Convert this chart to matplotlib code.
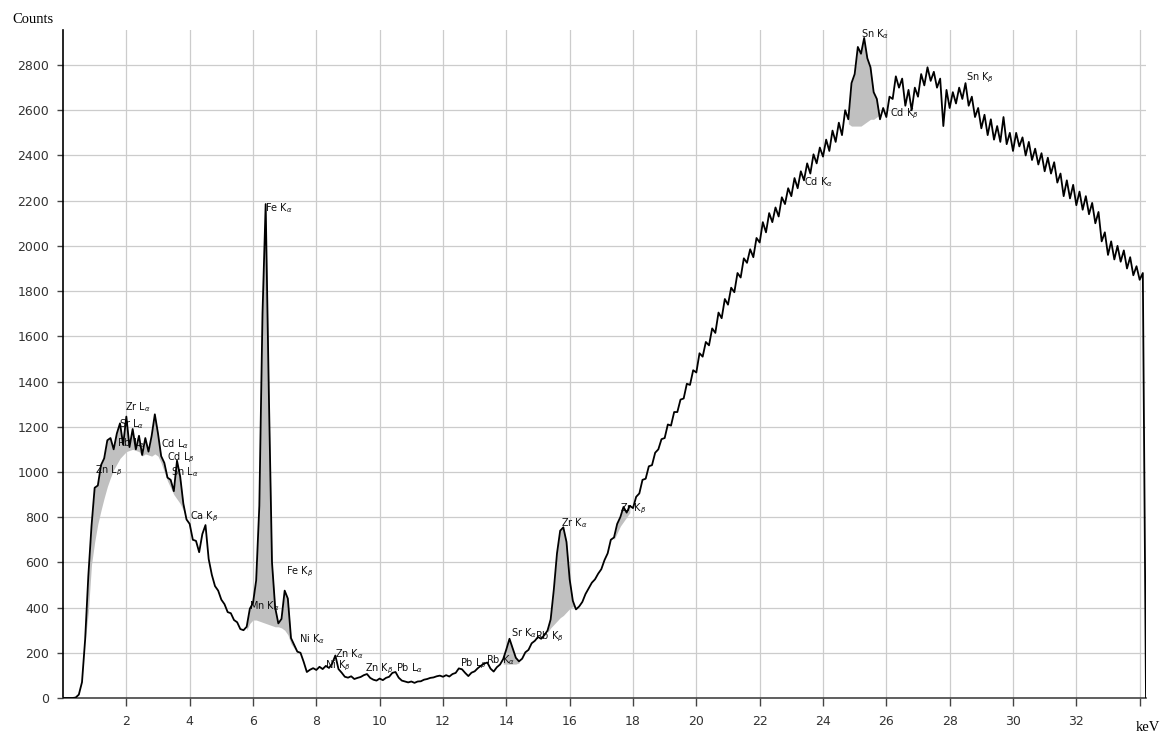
import numpy as np
import matplotlib
matplotlib.use("Agg")
import matplotlib.pyplot as plt

# spectrum, 0.1 keV per channel, 0.0 .. 34.2 keV
counts = [
    0, 0, 0, 0, 2, 15, 70, 260, 540, 760,
    930, 940, 1030, 1060, 1140, 1150, 1100, 1170, 1215, 1120,
    1245, 1110, 1190, 1100, 1160, 1075, 1150, 1090, 1160, 1255,
    1170, 1070, 1040, 975, 965, 915, 1050, 980, 860, 790,
    770, 700, 695, 645, 725, 765, 615, 545, 495, 475,
    435, 415, 380, 375, 345, 335, 305, 300, 315, 395,
    420, 520, 850, 1700, 2185, 1350, 600, 400, 330, 350,
    475, 440, 265, 235, 205, 200, 160, 115, 125, 132,
    124, 138, 128, 142, 133, 152, 188, 128, 112, 94,
    90, 96, 84, 89, 93, 101, 106, 89, 81, 77,
    86, 79, 89, 94, 111, 115, 90, 77, 73, 69,
    73, 67, 73, 74, 81, 84, 89, 91, 96, 99,
    94, 101, 95, 106, 111, 131, 127, 111, 97, 112,
    118, 132, 143, 152, 157, 130, 117, 136, 148, 172,
    215, 262, 220, 178, 162, 174, 202, 213, 242, 253,
    270, 262, 278, 298, 348, 480, 640, 740, 755, 690,
    525, 430, 392, 405, 425, 460, 485, 510, 525, 550,
    570, 610, 640, 700, 710, 770, 800, 845, 820, 850,
    840, 890, 905, 965, 970, 1025, 1030, 1085, 1100, 1145,
    1150, 1210, 1205, 1265, 1265, 1320, 1325, 1390, 1385, 1450,
    1440, 1525, 1510, 1575, 1560, 1635, 1615, 1705, 1680, 1765,
    1740, 1815, 1795, 1880, 1860, 1945, 1925, 1985, 1950, 2035,
    2015, 2105, 2060, 2145, 2105, 2170, 2130, 2215, 2185, 2255,
    2220, 2300, 2255, 2330, 2290, 2365, 2320, 2405, 2365, 2435,
    2395, 2470, 2420, 2510, 2460, 2545, 2490, 2600, 2560, 2720,
    2760, 2880, 2850, 2920, 2830, 2790, 2680, 2650, 2560, 2610,
    2570, 2660, 2650, 2750, 2700, 2740, 2620, 2690, 2600, 2700,
    2660, 2760, 2710, 2790, 2730, 2770, 2700, 2740, 2530, 2690,
    2610, 2680, 2630, 2700, 2650, 2720, 2620, 2660, 2570, 2610,
    2520, 2580, 2490, 2560, 2470, 2530, 2460, 2570, 2450, 2500,
    2420, 2500, 2440, 2480, 2400, 2460, 2380, 2430, 2360, 2410,
    2330, 2390, 2320, 2370, 2280, 2320, 2220, 2290, 2210, 2270,
    2180, 2240, 2160, 2220, 2140, 2190, 2100, 2150, 2020, 2060,
    1960, 2020, 1940, 2000, 1930, 1980, 1900, 1950, 1870, 1910,
    1850, 1880, 0,
]
energy = np.linspace(0, 34.2, len(counts))

# grey areas: start energy and lower edge per channel
grey_start = [0.7, 5.8, 13.9, 15.3, 17.4, 24.8]
grey_floor = [
    [250, 380, 590, 690, 770, 830, 885, 935, 975, 1010, 1035, 1060, 1075, 1090,
     1095, 1100, 1095, 1090, 1070, 1080, 1075, 1070, 1080, 1070, 1040, 1000,
     960, 930, 900, 880, 860, 830, 790],
    [300, 330, 345, 345, 340, 335, 330, 325, 320, 315, 315, 310, 300, 280, 240, 220, 200],
    [150, 150, 150, 150, 150, 155],
    [290, 310, 325, 340, 355, 365, 380, 395, 405, 392],
    [700, 730, 760, 780, 800, 820],
    [2540, 2530, 2530, 2530, 2530, 2540, 2550, 2560, 2560, 2570, 2580],
]

peak_names = ["Zn L$_\\beta$", "Rb L$_\\alpha$", "Sr L$_\\alpha$", "Zr L$_\\alpha$",
              "Cd L$_\\alpha$", "Cd L$_\\beta$", "Sn L$_\\alpha$", "Ca K$_\\beta$",
              "Mn K$_\\alpha$", "Fe K$_\\alpha$", "Fe K$_\\beta$", "Ni K$_\\alpha$",
              "Zn K$_\\alpha$", "Ni K$_\\beta$", "Zn K$_\\beta$", "Pb L$_\\alpha$",
              "Pb L$_\\beta$", "Rb K$_\\alpha$", "Sr K$_\\alpha$", "Rb K$_\\beta$",
              "Zr K$_\\alpha$", "Zr K$_\\beta$", "Cd K$_\\alpha$", "Sn K$_\\alpha$",
              "Cd K$_\\beta$", "Sn K$_\\beta$"]
peak_kev = [1.0, 1.7, 1.78, 1.97, 3.1, 3.28, 3.42, 4.0, 5.87, 6.37, 7.03, 7.45,
            8.58, 8.28, 9.55, 10.53, 12.53, 13.37, 14.16, 14.9, 15.72, 17.6,
            23.4, 25.21, 26.13, 28.51]
peak_counts = [995, 1115, 1200, 1275, 1110, 1050, 985, 790, 392, 2155, 547, 246,
               180, 130, 120, 120, 140, 153, 272, 262, 762, 825, 2270, 2925, 2572, 2731]

fig = plt.figure(figsize=(11.67, 7.34), dpi=100)
ax = fig.add_axes([63 / 1167, 36 / 734, 1083 / 1167, 668 / 734])

for start, floor in zip(grey_start, grey_floor):
    i0 = int(round(start * 10))
    seg = np.array(counts[i0:i0 + len(floor)])
    ax.fill_between(energy[i0:i0 + len(floor)], floor, seg, where=seg >= np.array(floor),
                    color="#c0c0c0", lw=0, zorder=2, interpolate=True)

ax.plot(energy, counts, color="black", lw=1.3, zorder=3)

for name, x, y in zip(peak_names, peak_kev, peak_counts):
    ax.text(x, y, name, fontsize=7, color="#111111", ha="left", va="baseline", zorder=2.5)

ax.set_xlim(0, 34.2)
ax.set_ylim(0, 2955)
ax.set_xticks(np.arange(2, 35, 2))
ax.set_xticklabels([str(v) for v in range(2, 33, 2)] + [""])
ax.set_yticks(np.arange(0, 2801, 200))
ax.grid(True, color="#cccccc", lw=0.9)
ax.set_axisbelow(True)
for s in ["top", "right"]:
    ax.spines[s].set_visible(False)
ax.spines["left"].set_linewidth(1.2)
ax.spines["bottom"].set_linewidth(1.2)
ax.spines["bottom"].set_color("#444444")
ax.tick_params(axis="y", direction="out", length=4.5, width=1, color="#444444",
               labelsize=9, labelcolor="#333333", pad=5.5)
ax.tick_params(axis="x", direction="out", length=6, width=1, color="#444444",
               labelsize=9, labelcolor="#333333", pad=6.5)

fig.text(12 / 1167, 1 - 23 / 734, "Counts", family="Liberation Serif", fontsize=10.5)
fig.text(1136 / 1167, 1 - 731 / 734, "keV", family="Liberation Serif", fontsize=10.5)

fig.savefig("out.png", dpi=100)
